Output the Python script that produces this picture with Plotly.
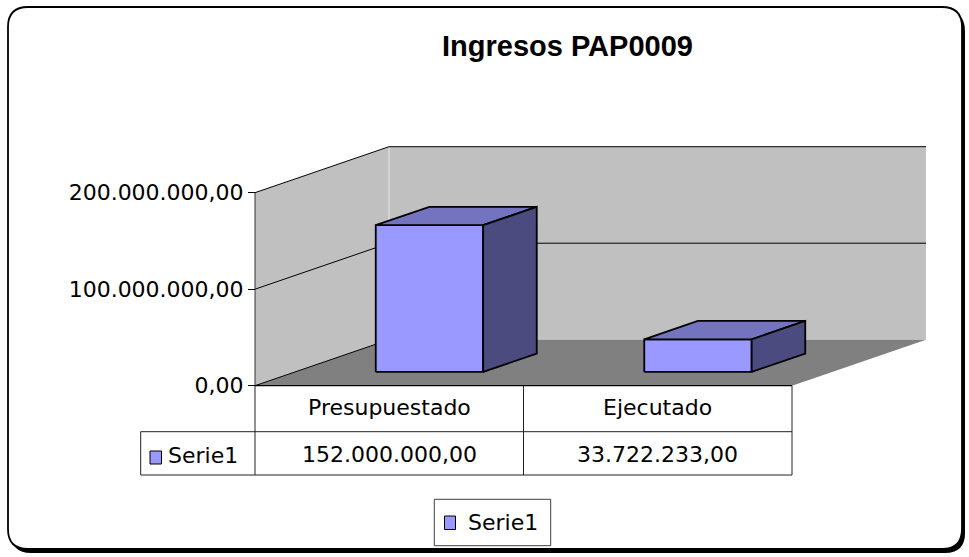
import plotly.graph_objects as go

# ---------------- data ----------------
title_text = "Ingresos PAP0009"
categories = ["Presupuestado", "Ejecutado"]
series_name = "Serie1"
values = [152000000.00, 33722233.00]
y_ticks = [0, 100000000, 200000000]
wall_max = 200000000


def fmt(v):
    s = f"{v:,.2f}"
    return s.replace(",", "_").replace(".", ",").replace("_", ".")


# ---------------- layout constants (pixels) ----------------
W, H = 969, 557
X0, UPX = 255.0, 268.5          # pixel of category 0 edge, pixels per category
Y0, VPX = 385.7, 96.5 / 1e8     # pixel of value 0, pixels per value unit
DU = 134.0 / UPX                # depth offset (category units)
DV = 46.0 / VPX                 # depth offset (value units)
BAR_W = 0.4
D0, D1 = 0.3, 0.7
FONT = "DejaVu Sans"
FS = 22

FRONT, TOP, SIDE = "#9999FF", "#7373BF", "#4B4B80"
WALL, FLOOR = "#C0C0C0", "#808080"


def px_u(px):
    return (px - X0) / UPX


def py_v(py):
    return (Y0 - py) / VPX


def P(px):
    return px / W


def Q(py):
    return 1 - py / H


fig = go.Figure()


def poly(xs, ys, fill, line_color=None, lw=0):
    fig.add_trace(go.Scatter(
        x=list(xs) + [xs[0]], y=list(ys) + [ys[0]],
        mode="lines" if lw else "none", fill="toself", fillcolor=fill,
        line=dict(color=line_color or fill, width=lw),
        hoverinfo="skip", showlegend=False))


def seg(xs, ys, color="black", w=1):
    fig.add_trace(go.Scatter(x=xs, y=ys, mode="lines",
                             line=dict(color=color, width=w),
                             hoverinfo="skip", showlegend=False))


n = len(categories)

# walls and floor
poly([0, 0, DU, DU], [0, wall_max, wall_max + DV, DV], WALL)
poly([DU, DU, n + DU, n + DU], [DV, wall_max + DV, wall_max + DV, DV], WALL)
seg([DU, DU], [DV, wall_max + DV], "#E6E6E6", 1)
poly([0, n, n + DU, DU], [0, 0, DV, DV], FLOOR)

# gridlines
for t in y_ticks:
    seg([0, DU], [t, t + DV], "black", 1)
    if t > 0:
        seg([DU, n + DU], [t + DV, t + DV], "black", 1)
seg([0, 0], [0, wall_max], "#333333", 1)
seg([0, n], [0, 0], "black", 1.2)

# bars
for i, v in enumerate(values):
    c = i + 0.5
    xl, xr = c - BAR_W / 2, c + BAR_W / 2
    f0x, f0y = D0 * DU, D0 * DV
    f1x, f1y = D1 * DU, D1 * DV
    poly([xl + f0x, xr + f0x, xr + f0x, xl + f0x],
         [f0y, f0y, v + f0y, v + f0y], FRONT, "black", 1.8)
    poly([xl + f0x, xr + f0x, xr + f1x, xl + f1x],
         [v + f0y, v + f0y, v + f1y, v + f1y], TOP, "black", 1.8)
    poly([xr + f0x, xr + f1x, xr + f1x, xr + f0x],
         [f0y, f1y, v + f1y, v + f0y], SIDE, "black", 1.8)

# data table
row1_bot, row2_bot, key_left = 431.7, 475.0, 140.7
tcol = "#222222"
for i in range(n + 1):
    seg([i, i], [0, py_v(row2_bot)], tcol, 1)
seg([px_u(key_left), px_u(key_left)], [py_v(row1_bot), py_v(row2_bot)], tcol, 1)
for yy in (row1_bot, row2_bot):
    seg([px_u(key_left), n], [py_v(yy), py_v(yy)], tcol, 1)

annotations = []
for i, (cat, v) in enumerate(zip(categories, values)):
    annotations.append(dict(x=i + 0.5, y=py_v(407.5), xref="x", yref="y", text=cat,
                            showarrow=False, xanchor="center", yanchor="middle",
                            font=dict(family=FONT, size=FS, color="black")))
    annotations.append(dict(x=i + 0.5, y=py_v(454), xref="x", yref="y", text=fmt(v),
                            showarrow=False, xanchor="center", yanchor="middle",
                            font=dict(family=FONT, size=FS, color="black")))
annotations.append(dict(x=P(166), y=Q(455), xref="paper", yref="paper", text=series_name,
                        showarrow=False, xanchor="left", yanchor="middle",
                        font=dict(family=FONT, size=FS, color="black")))
# title
annotations.append(dict(x=P(567), y=Q(46), xref="paper", yref="paper",
                        text="<b>" + title_text + "</b>", showarrow=False,
                        xanchor="center", yanchor="middle",
                        font=dict(family="Liberation Sans", size=29, color="black")))
# legend text
annotations.append(dict(x=P(465.5), y=Q(522), xref="paper", yref="paper", text=series_name,
                        showarrow=False, xanchor="left", yanchor="middle",
                        font=dict(family=FONT, size=FS, color="black")))


def rrect(x0, y0, x1, y1, r):
    return (f"M {P(x0 + r)},{Q(y0)} L {P(x1 - r)},{Q(y0)} "
            f"Q {P(x1)},{Q(y0)} {P(x1)},{Q(y0 + r)} L {P(x1)},{Q(y1 - r)} "
            f"Q {P(x1)},{Q(y1)} {P(x1 - r)},{Q(y1)} L {P(x0 + r)},{Q(y1)} "
            f"Q {P(x0)},{Q(y1)} {P(x0)},{Q(y1 - r)} L {P(x0)},{Q(y0 + r)} "
            f"Q {P(x0)},{Q(y0)} {P(x0 + r)},{Q(y0)} Z")


shapes = [
    dict(type="path", xref="paper", yref="paper", path=rrect(11, 11, 965, 553, 20),
         fillcolor="black", line=dict(width=0), layer="below"),
    dict(type="path", xref="paper", yref="paper", path=rrect(8, 7, 962, 549, 20),
         fillcolor="white", line=dict(color="black", width=1.8), layer="below"),
    # legend box
    dict(type="rect", xref="paper", yref="paper", x0=P(434.3), x1=P(550.7),
         y0=Q(545.7), y1=Q(499.3), fillcolor="white", line=dict(color="#404040", width=1),
         layer="below"),
    dict(type="rect", xref="paper", yref="paper", x0=P(444.5), x1=P(455.5),
         y0=Q(529.5), y1=Q(516), fillcolor=FRONT, line=dict(color="black", width=1)),
    # table key
    dict(type="rect", xref="paper", yref="paper", x0=P(150), x1=P(161.5),
         y0=Q(464), y1=Q(451), fillcolor=FRONT, line=dict(color="black", width=1)),
]

fig.update_layout(
    width=W, height=H, margin=dict(l=0, r=0, t=0, b=0),
    paper_bgcolor="white", plot_bgcolor="rgba(0,0,0,0)",
    showlegend=False,
    xaxis=dict(range=[px_u(0), px_u(W)], domain=[0, 1], visible=False, fixedrange=True),
    yaxis=dict(range=[py_v(H), py_v(0)], domain=[0, 1], anchor="free", position=X0 / W,
               side="left", showgrid=False, zeroline=False, showline=False,
               tickvals=y_ticks, ticktext=[fmt(t) for t in y_ticks],
               ticks="outside", ticklen=7, tickwidth=1, tickcolor="black",
               tickfont=dict(family=FONT, size=FS, color="black"), fixedrange=True),
    annotations=annotations, shapes=shapes,
)

fig.write_html(
    "out.html",
    config={"displayModeBar": False},
    post_script="document.body.style.margin='0';document.body.style.overflow='hidden';",
)
